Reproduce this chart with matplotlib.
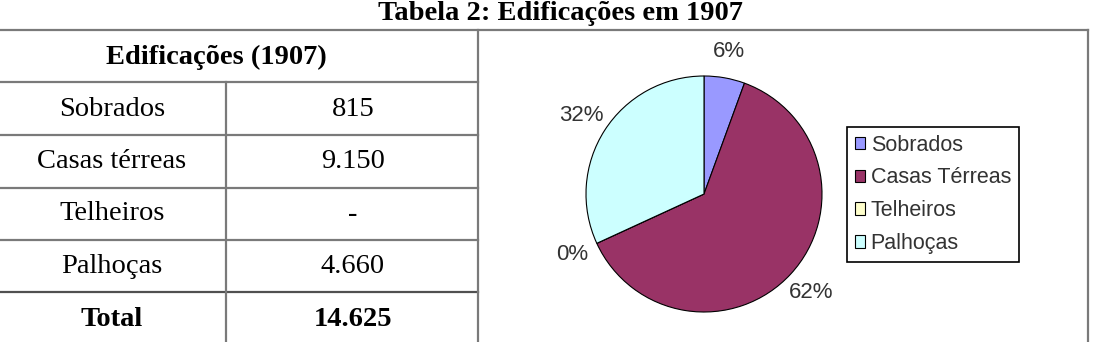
import matplotlib
matplotlib.use("Agg")
import matplotlib.pyplot as plt

# data
title = "Tabela 2: Edificações em 1907"
table_header = "Edificações (1907)"
categories = ["Sobrados", "Casas térreas", "Telheiros", "Palhoças"]
table_values = ["815", "9.150", "-", "4.660"]
total_label = "Total"
total_value = "14.625"

pie_labels = ["Sobrados", "Casas Térreas", "Telheiros", "Palhoças"]
pie_values = [815, 9150, 0, 4660]
pie_pct_labels = ["6%", "62%", "0%", "32%"]
pie_colors = ["#9999FF", "#993366", "#FFFFCC", "#CCFFFF"]

W, H = 1093, 342
fig = plt.figure(figsize=(W / 100, H / 100), dpi=100)

# background axes in pixel coordinates (origin top-left)
bg = fig.add_axes([0, 0, 1, 1])
bg.set_xlim(0, W)
bg.set_ylim(H, 0)
bg.axis("off")

serif = "Liberation Serif"
line_c = "#7a7a7a"

bg.text(560, 20, title, ha="center", va="baseline", fontsize=20.5,
        fontweight="bold", family=serif)

# table grid
row_edges = [30, 82, 135, 188, 240, 292]
col_mid, col_right = 226, 478
bg.plot([0, 1088], [30, 30], color=line_c, lw=1.6)
for y in row_edges[1:]:
    c = "#505050" if y == row_edges[-1] else line_c
    bg.plot([0, col_right], [y, y], color=c, lw=1.6)
bg.plot([col_mid, col_mid], [row_edges[1], H], color=line_c, lw=1.6)
bg.plot([col_right, col_right], [30, H], color=line_c, lw=1.6)
bg.plot([1088, 1088], [30, H], color=line_c, lw=1.6)

bg.text(216, 57, table_header, ha="center", va="center", fontsize=20.5,
        fontweight="bold", family=serif)
rows = list(zip(categories, table_values)) + [(total_label, total_value)]
for i, (name, val) in enumerate(rows):
    yc = row_edges[1] + 27 + i * 52.5
    fw = "bold" if name == total_label else "normal"
    bg.text(112, yc, name, ha="center", va="center", fontsize=20.5,
            family=serif, fontweight=fw)
    bg.text(353, yc, val, ha="center", va="center", fontsize=20.5,
            family=serif, fontweight=fw)

# pie chart
cx, cy, R, half = 704, 194, 118, 150
ax = fig.add_axes([(cx - half) / W, (H - cy - half) / H, 2 * half / W, 2 * half / H])
wedges, texts = ax.pie(pie_values, labels=pie_pct_labels, colors=pie_colors,
                       startangle=90, counterclock=False, labeldistance=1.23,
                       wedgeprops=dict(edgecolor="black", linewidth=0.8),
                       textprops=dict(fontsize=16, color="#333333",
                                      family="Liberation Sans"))
for t in texts:
    t.set_ha("center")
    t.set_va("center")
lim = half / R
ax.set_xlim(-lim, lim)
ax.set_ylim(-lim, lim)
ax.set_aspect("equal")
ax.axis("off")

leg = fig.legend(wedges, pie_labels, loc="upper left",
                 bbox_to_anchor=(847 / W, 1 - 127 / H), borderaxespad=0,
                 fancybox=False, framealpha=1, edgecolor="black",
                 prop=dict(family="Liberation Sans", size=15.5),
                 handlelength=0.5, handleheight=0.5, handletextpad=0.25,
                 labelspacing=0.55, borderpad=0.35)
leg.get_frame().set_linewidth(1.2)
for t in leg.get_texts():
    t.set_color("#333333")

fig.savefig("out.png", dpi=100)
